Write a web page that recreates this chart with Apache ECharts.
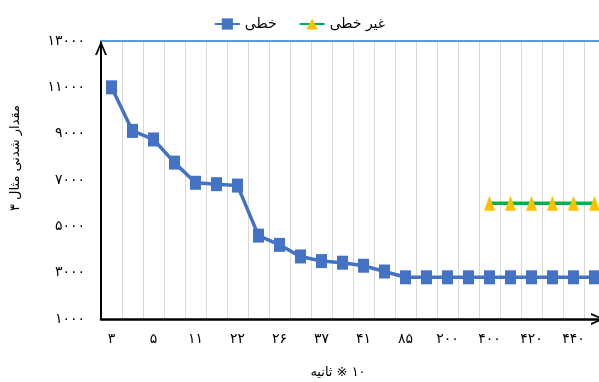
<!DOCTYPE html>
<html>
<head>
<meta charset="utf-8">
<script src="https://cdn.jsdelivr.net/npm/echarts@6/dist/echarts.min.js"></script>
<style>
  html, body { margin: 0; padding: 0; background: #fff; }
  #chart { width: 599px; height: 382px; }
</style>
</head>
<body>
<div id="chart"></div>
<script>
// Category labels shown under every second category
const tickLabels = ['۳', '۵', '۱۱', '۲۲', '۲۶', '۳۷', '۴۱', '۸۵', '۲۰۰', '۴۰۰', '۴۲۰', '۴۴۰'];
// Value axis labels (1000 .. 13000, step 2000)
const yTickLabels = ['۱۰۰۰', '۳۰۰۰', '۵۰۰۰', '۷۰۰۰', '۹۰۰۰', '۱۱۰۰۰', '۱۳۰۰۰'];

const seriesNames = ['خطی', 'غیر خطی'];
const linearValues = [11000, 9120, 8750, 7750, 6880, 6820, 6760, 4600, 4200, 3700, 3500, 3430,
                      3300, 3050, 2800, 2800, 2800, 2800, 2800, 2800, 2800, 2800, 2800, 2800];
const nonlinearValues = [null, null, null, null, null, null, null, null, null, null, null, null,
                         null, null, null, null, null, null, 6000, 6000, 6000, 6000, 6000, 6000];

const categories = linearValues.map((_, i) => String(i));
const chevron = 'path://M6,0 L12,14 L10,14 L6,4 L2,14 L0,14 Z';
const font = '"DejaVu Sans", "Noto Sans", sans-serif';
// Word and factor are separate rich tokens so the factor stays on the right
const xTitle = '{w|ثانیه}{n| ※ ۱۰}';
const yTitle = 'مقدار شدنی مثال ۳';

const chart = echarts.init(document.getElementById('chart'));
chart.setOption({
  animation: false,
  textStyle: { fontFamily: font },
  legend: {
    data: seriesNames,
    top: 12,
    left: 'center',
    itemWidth: 25,
    itemHeight: 14,
    itemGap: 22,
    textStyle: { fontSize: 14, color: '#000', fontFamily: font }
  },
  grid: { left: 101, top: 41, width: 504, bottom: 63, containLabel: false, outerBoundsMode: 'none' },
  xAxis: [
    {
      type: 'category',
      data: categories,
      boundaryGap: true,
      name: xTitle,
      nameLocation: 'middle',
      nameGap: 47,
      nameTextStyle: {
        fontSize: 13,
        color: '#000',
        padding: [0, 30, 0, 0],
        rich: {
          w: { fontSize: 13, color: '#000', fontFamily: font },
          n: { fontSize: 13, color: '#000', fontFamily: font }
        }
      },
      axisLine: {
        lineStyle: { color: '#000', width: 2.5 },
        symbol: ['none', chevron],
        symbolSize: [12, 14],
        symbolOffset: [0, -7]
      },
      axisTick: { show: false },
      axisLabel: {
        interval: 1,
        margin: 13,
        fontSize: 14,
        color: '#000',
        formatter: (v, i) => (i % 2 === 0 ? tickLabels[i / 2] : '')
      },
      splitLine: { show: true, interval: 0, lineStyle: { color: '#D9D9D9', width: 1 } }
    },
    {
      type: 'category',
      data: categories,
      position: 'top',
      axisLine: { lineStyle: { color: '#5B9BD5', width: 2 } },
      axisTick: { show: false },
      axisLabel: { show: false },
      splitLine: { show: false }
    }
  ],
  yAxis: {
    type: 'value',
    min: 1000,
    max: 13000,
    interval: 2000,
    name: yTitle,
    nameLocation: 'middle',
    nameGap: 79,
    nameTextStyle: { fontSize: 13, color: '#000', padding: [0, 0, 0, 44] },
    axisLine: {
      show: true,
      lineStyle: { color: '#000', width: 2 },
      symbol: ['none', chevron],
      symbolSize: [12, 14],
      symbolOffset: [0, -7]
    },
    axisTick: { show: false },
    axisLabel: {
      margin: 16,
      fontSize: 14,
      color: '#000',
      formatter: (v) => yTickLabels[(v - 1000) / 2000]
    },
    splitLine: { show: false }
  },
  series: [
    {
      name: seriesNames[0],
      type: 'line',
      data: linearValues,
      symbol: 'rect',
      symbolSize: [11, 14],
      showAllSymbol: true,
      itemStyle: { color: '#4472C4' },
      lineStyle: { color: '#4472C4', width: 3.5 },
      z: 3
    },
    {
      name: seriesNames[1],
      type: 'line',
      data: nonlinearValues,
      symbol: 'triangle',
      symbolSize: [11, 15],
      showAllSymbol: true,
      itemStyle: { color: '#FFC000' },
      lineStyle: { color: '#00B050', width: 3.5 },
      z: 3
    }
  ]
});
</script>
</body>
</html>
